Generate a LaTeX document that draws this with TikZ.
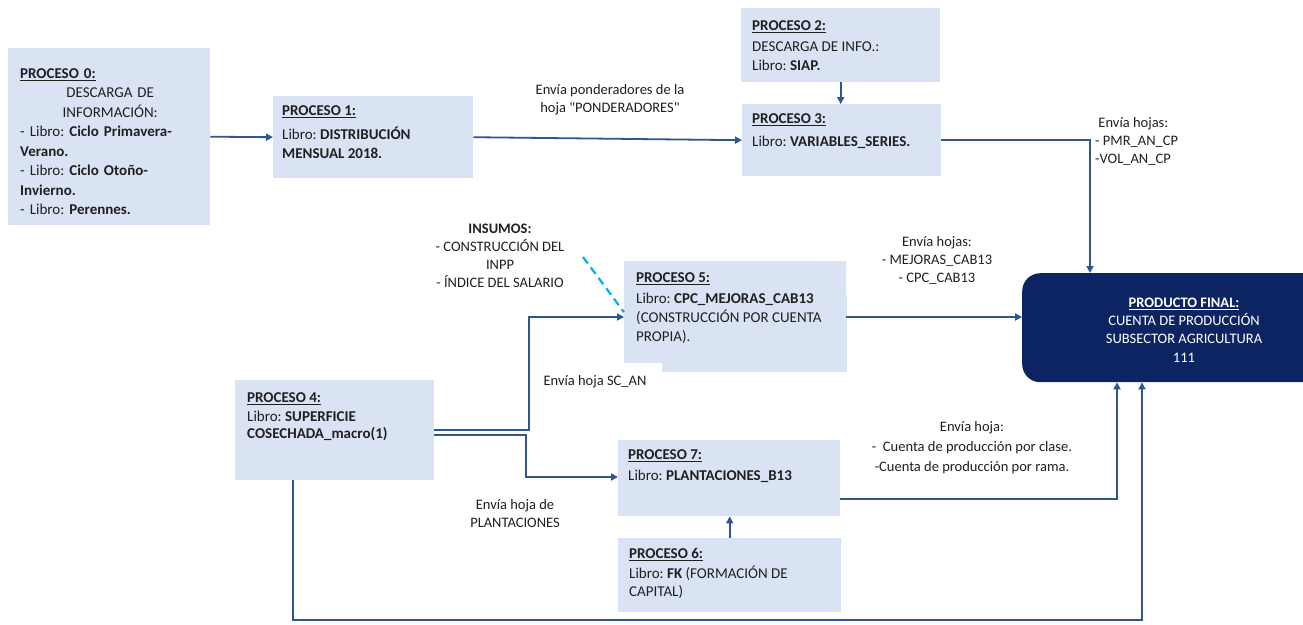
\documentclass[tikz,border=0pt]{standalone}
\usepackage{fontspec}
\setmainfont{Carlito}
\usetikzlibrary{arrows.meta}

\definecolor{boxfill}{HTML}{DAE3F3}
\definecolor{linkblue}{HTML}{2F5597}
\definecolor{navyfill}{HTML}{0C2461}
\definecolor{dashcyan}{HTML}{00B0F0}
\definecolor{ink}{HTML}{202020}

\newcommand{\prochead}[1]{\underline{\textbf{#1}}}
\newcommand{\ctrln}[1]{\makebox[180pt][c]{#1}}
% fixed-height strut: the top edge of each text block sits 13pt above its first baseline
\newcommand{\tstrut}{\rule{0pt}{13pt}}

\tikzset{
  procbox/.style={fill=boxfill, draw=none, inner sep=0pt, anchor=north west},
  finalbox/.style={fill=navyfill, draw=none, inner sep=0pt, anchor=north west, rounded corners=18pt},
  boxtxt/.style={inner sep=0pt, align=left, text=ink, anchor=north west,
                 font=\fontsize{15}{19}\selectfont},
  notetxt/.style={inner sep=0pt, align=center, text=ink, anchor=north,
                  font=\fontsize{14.5}{18}\selectfont},
  link/.style={draw=linkblue, line width=1.8pt,
               -{Triangle[length=7pt,width=7pt]}},
  dashlink/.style={draw=dashcyan, line width=2.2pt, dash pattern=on 8pt off 5pt},
}

\begin{document}
\frenchspacing
\begin{tikzpicture}[x=1pt, y=-1pt]
  \useasboundingbox (0,0) rectangle (1303,624);
  \fill[white] (0,0) rectangle (1303,624);

  % process boxes
  \node[procbox, minimum width=202pt, minimum height=177pt] (p0) at (8,48) {};
  \node[procbox, minimum width=200pt, minimum height=82pt]  (p1) at (273,96) {};
  \node[procbox, minimum width=199pt, minimum height=74pt]  (p2) at (741,8) {};
  \node[procbox, minimum width=199pt, minimum height=72pt]  (p3) at (742,104) {};
  \node[procbox, minimum width=222pt, minimum height=102pt] (p5) at (624,261) {};
  \node[procbox, minimum width=185pt, minimum height=77pt]  (p5b) at (662,295) {};
  \node[procbox, minimum width=199pt, minimum height=100pt] (p4) at (235,380) {};
  \node[procbox, minimum width=222pt, minimum height=76pt]  (p7) at (618,440) {};
  \node[procbox, minimum width=223pt, minimum height=74pt]  (p6) at (618,538) {};
  \node[finalbox, minimum width=320pt, minimum height=109pt] (pf) at (1022,273) {};

  % box texts
  \node[boxtxt, text width=180pt, font=\fontsize{15}{19.5}\selectfont] (p0t) at (20,65) {%
    \tstrut\prochead{PROCESO 0:}\\
    \ctrln{DESCARGA DE}\\
    \ctrln{INFORMACIÓN:}\\
    - Libro: \textbf{Ciclo Primavera-}\\
    \textbf{Verano.}\\
    - Libro: \textbf{Ciclo Otoño-}\\
    \textbf{Invierno.}\\
    - Libro: \textbf{Perennes.}};
  \node[boxtxt] (p1t) at (282,102) {\tstrut\prochead{PROCESO 1:}\\[5pt]
    Libro: \textbf{DISTRIBUCIÓN}\\ \textbf{MENSUAL 2018.}};
  \node[boxtxt] (p2t) at (752,17) {\tstrut\prochead{PROCESO 2:}\\[2pt]
    DESCARGA DE INFO.:\\ Libro: \textbf{SIAP.}};
  \node[boxtxt] (p3t) at (752,110) {\tstrut\prochead{PROCESO 3:}\\[4pt]
    Libro: \textbf{VARIABLES\_SERIES.}};
  \node[boxtxt] (p5t) at (636,269.5) {\tstrut\prochead{PROCESO 5:}\\[2pt]
    Libro: \textbf{CPC\_MEJORAS\_CAB13}\\ (CONSTRUCCIÓN POR CUENTA\\ PROPIA).};
  \node[boxtxt] (p4t) at (247,389.5) {\tstrut\prochead{PROCESO 4:}\\[0pt]
    Libro: \textbf{SUPERFICIE}\\[-2pt] \textbf{COSECHADA\_macro(1)}};
  \node[boxtxt] (p7t) at (628,446.5) {\tstrut\prochead{PROCESO 7:}\\[2pt]
    Libro: \textbf{PLANTACIONES\_B13}};
  \node[boxtxt] (p6t) at (629,545) {\tstrut\prochead{PROCESO 6:}\\[1pt]
    Libro: \textbf{FK} (FORMACIÓN DE\\[-1pt] CAPITAL)};
  \node[notetxt, text=white, font=\fontsize{14.5}{18.3}\selectfont] (pft) at (1184,294)
    {\tstrut\prochead{PRODUCTO FINAL:}\\ CUENTA DE PRODUCCIÓN\\ SUBSECTOR AGRICULTURA\\ 111};

  % connector notes
  \node[notetxt] (n13) at (610,81.5) {\tstrut Envía ponderadores de la\\ hoja \textquotedbl PONDERADORES\textquotedbl};
  \node[notetxt, align=left, anchor=north west] (n3f) at (1095,114)
    {\tstrut\ Envía hojas:\\ - PMR\_AN\_CP\\ -VOL\_AN\_CP};
  \node[notetxt] (n5f) at (937,233.5) {\tstrut Envía hojas:\\ - MEJORAS\_CAB13\\ - CPC\_CAB13};
  \node[notetxt] (ins) at (500,220) {\tstrut\textbf{INSUMOS:}\\ - CONSTRUCCIÓN DEL\\ INPP\\ - ÍNDICE DEL SALARIO};
  \node[notetxt] (n45) at (595,372) {\tstrut Envía hoja SC\_AN};
  \node[notetxt] (n47) at (515,496.5) {\tstrut Envía hoja de\\ PLANTACIONES};
  \node[notetxt, font=\fontsize{14.5}{20}\selectfont] (n7f) at (972,418.5)
    {\tstrut Envía hoja:\\ -\ \ Cuenta de producción por clase.\\ -Cuenta de producción por rama.};

  % connectors
  \draw[link] (p0.east) -- (p1.west);
  \draw[link] (p1.east) -- (p3.west);
  \draw[link] (p2.south) -- (p2.south |- p3.north);
  \draw[link] (p3.east) -| (1090,0 |- pf.north);
  \draw[link] (p5.east |- 0,317) -- (pf.west |- 0,317);
  \draw[link] (p4.east |- 0,430) -| (529,317) -- (p5.west |- 0,317);
  \draw[link] (p4.east |- 0,435) -| (526,477) -- (p7.west |- 0,477);
  \draw[link] (p7.east |- 0,499) -| (1117,0 |- pf.south);
  \draw[link] (293,0 |- p4.south) -- (293,620) -| (1142,0 |- pf.south);
  \draw[link] (p6.north) -- (p6.north |- p7.south);
  \coordinate (insdash) at (583,257);
  \draw[dashlink] (insdash) -- (p5.west);
\end{tikzpicture}
\end{document}
